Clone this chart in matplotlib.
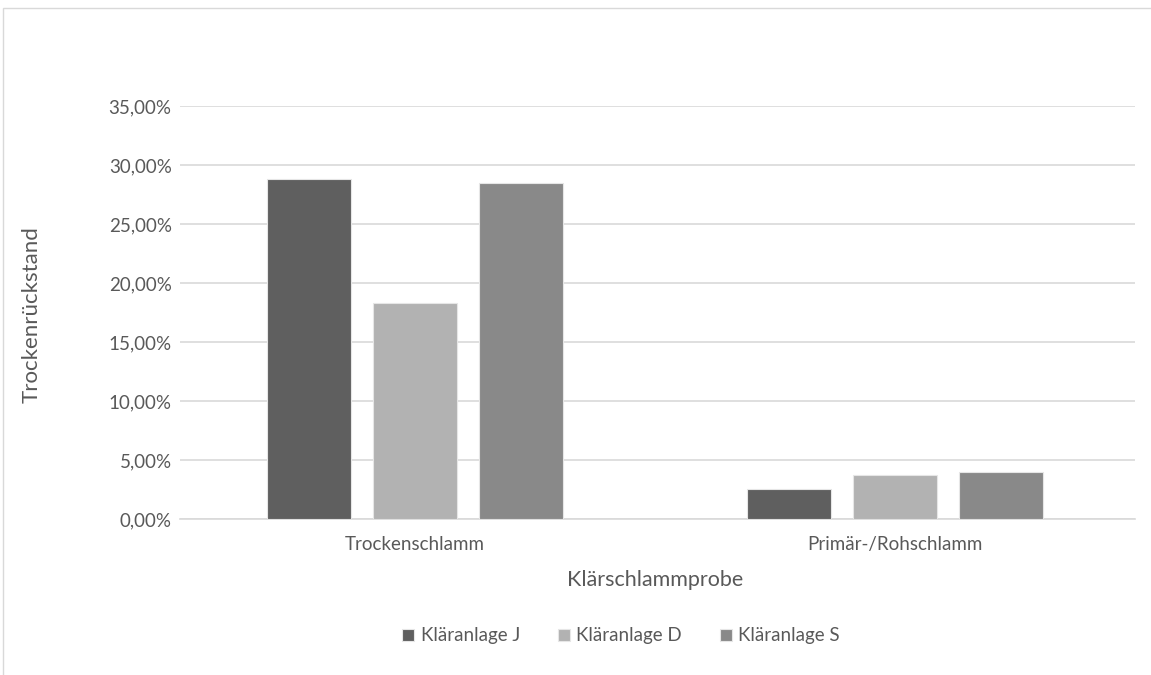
import matplotlib.pyplot as plt
import numpy as np
from matplotlib.ticker import FuncFormatter
from matplotlib.patches import Rectangle

plt.rcParams['font.family'] = ['Lato', 'DejaVu Sans']

categories = ['Trockenschlamm', 'Primär-/Rohschlamm']
anlagen = ['Kläranlage J', 'Kläranlage D', 'Kläranlage S']
werte = {
    'Kläranlage J': [0.2879, 0.0254],
    'Kläranlage D': [0.1828, 0.0373],
    'Kläranlage S': [0.2851, 0.0401],
}
farben = ['#5f5f5f', '#b2b2b2', '#898989']
textfarbe = '#595959'

W, H = 1151, 675
fig = plt.figure(figsize=(W / 100, H / 100), dpi=100)
ax = fig.add_axes([180 / W, (H - 519) / H, (1135 - 180) / W, (519 - 106) / H])

x = np.arange(len(categories))
breite = 0.175
schritt = 0.221
for i, (name, farbe) in enumerate(zip(anlagen, farben)):
    ax.bar(x + (i - 1) * schritt, werte[name], width=breite, color=farbe,
           edgecolor='#e6e6e6', linewidth=0.8, label=name, zorder=3)

ax.set_xlim(-0.49, 1.5)
ax.set_ylim(0, 0.35)
ax.set_yticks(np.arange(0, 0.351, 0.05))
ax.yaxis.set_major_formatter(FuncFormatter(lambda v, p: f'{v * 100:.2f}%'.replace('.', ',')))
ax.set_xticks(x)
ax.set_xticklabels(categories)
ax.tick_params(axis='both', length=0, labelsize=13.5, colors=textfarbe)
ax.tick_params(axis='y', pad=6)
ax.tick_params(axis='x', pad=12)
ax.grid(axis='y', color='#d9d9d9', linewidth=1.2, zorder=0)
for s in ['top', 'right', 'left']:
    ax.spines[s].set_visible(False)
ax.spines['bottom'].set_color('#d9d9d9')
ax.spines['bottom'].set_linewidth(1.2)

ax.set_xlabel('Klärschlammprobe', fontsize=15.5, color=textfarbe)
ax.set_ylabel('Trockenrückstand', fontsize=16, color=textfarbe)
ax.xaxis.set_label_coords(655 / W, (H - 580) / H, transform=fig.transFigure)
ax.yaxis.set_label_coords(32 / W, (H - 315) / H, transform=fig.transFigure)
ax.xaxis.label.set_va('center')
ax.yaxis.label.set_va('center')

ax.legend(loc='center', bbox_to_anchor=(621 / W, (H - 636) / H),
          bbox_transform=fig.transFigure, ncol=3, frameon=False,
          fontsize=13.5, labelcolor=textfarbe, handlelength=0.65, handleheight=0.65,
          handletextpad=0.35, columnspacing=2.0)

# chart frame
fig.patches.append(Rectangle((3 / W, -0.1), 1.2, (H - 8) / H + 0.1,
                             transform=fig.transFigure, fill=False,
                             edgecolor='#d9d9d9', linewidth=1))

fig.savefig('out.png', dpi=100)
